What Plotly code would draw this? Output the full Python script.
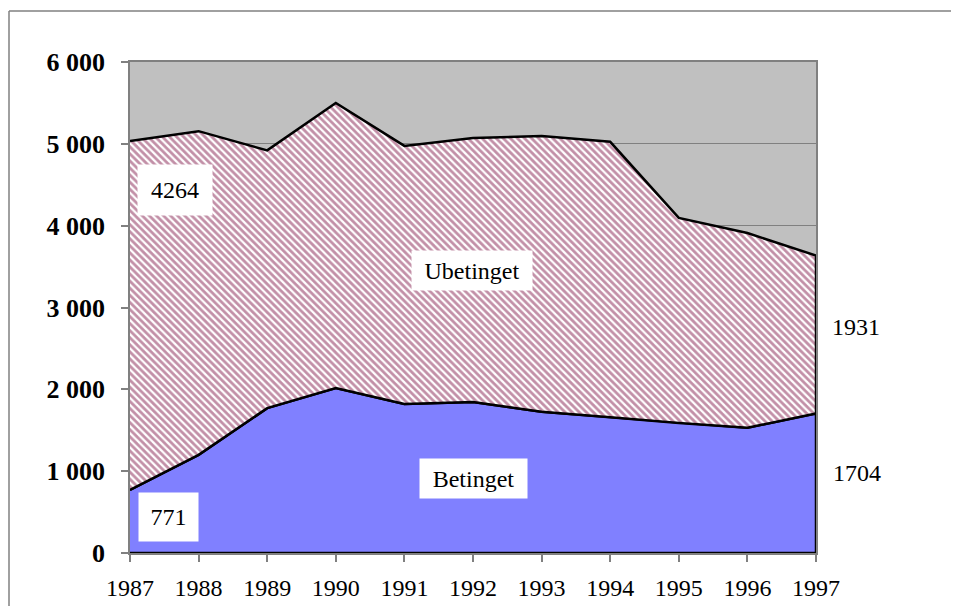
import plotly.graph_objects as go

years = [1987, 1988, 1989, 1990, 1991, 1992, 1993, 1994, 1995, 1996, 1997]
betinget = [771, 1200, 1770, 2015, 1820, 1845, 1725, 1660, 1590, 1530, 1704]
ubetinget = [4264, 3955, 3150, 3485, 3155, 3225, 3370, 3365, 2505, 2380, 1931]
y_ticks = [0, 1000, 2000, 3000, 4000, 5000, 6000]
y_tick_labels = ["0", "1 000", "2 000", "3 000", "4 000", "5 000", "6 000"]

totals = [b + u for b, u in zip(betinget, ubetinget)]

# page has an 8px body margin; figure is placed at (8, 8)
OFF = 8
W, H = 959 - OFF, 606 - OFF
L, R, T, B = 130, 816, 62, 553  # plot area in page pixels


def px(x):
    return (x - L) / (R - L)


def py(y):
    return (B - y) / (B - T)


serif = "Liberation Serif"

fig = go.Figure()
fig.add_trace(go.Scatter(
    x=years + years[::-1],
    y=betinget + [0] * len(years),
    fill="toself",
    fillcolor="#8080FF",
    line=dict(color="black", width=2.5),
    mode="lines",
    hoverinfo="skip",
    showlegend=False,
))
fig.add_trace(go.Scatter(
    x=years + years[::-1],
    y=totals + betinget[::-1],
    fill="toself",
    fillcolor="white",
    fillpattern=dict(shape="\\", fgcolor="#85204F", bgcolor="white", size=5, solidity=0.55),
    line=dict(color="black", width=2.5),
    mode="lines",
    hoverinfo="skip",
    showlegend=False,
))

ann_font = dict(family=serif, size=24, color="black")
annotations = [
    dict(x=px(175), y=py(190), text=str(ubetinget[0]), bgcolor="white", width=72, height=48),
    dict(x=px(168.5), y=py(517), text=str(betinget[0]), bgcolor="white", width=57, height=46),
    dict(x=px(472), y=py(270), text="Ubetinget", bgcolor="white", width=118, height=37),
    dict(x=px(473.5), y=py(478), text="Betinget", bgcolor="white", width=105, height=37),
    dict(x=px(855.5), y=py(327), text=str(ubetinget[-1])),
    dict(x=px(856.5), y=py(473), text=str(betinget[-1])),
]
for a in annotations:
    a.update(xref="paper", yref="paper", xanchor="center", yanchor="middle",
             showarrow=False, font=ann_font, borderpad=1)

fig.update_layout(
    width=W, height=H,
    margin=dict(l=L - OFF, r=(W + OFF) - R, t=T - OFF, b=(H + OFF) - B, pad=0),
    paper_bgcolor="white",
    plot_bgcolor="#C0C0C0",
    annotations=annotations,
    shapes=[
        dict(type="line", xref="paper", yref="paper", x0=px(9), x1=px(970), y0=py(11), y1=py(11),
             line=dict(color="#808080", width=1.5)),
        dict(type="line", xref="paper", yref="paper", x0=px(9), x1=px(9), y0=py(11), y1=py(620),
             line=dict(color="#808080", width=1.5)),
    ],
)
fig.update_xaxes(
    range=[years[0], years[-1]],
    tickvals=years,
    ticktext=[str(y) for y in years],
    showgrid=False, zeroline=False, automargin=False,
    showline=True, linecolor="#808080", linewidth=1.5, mirror=True,
    ticks="outside", ticklen=7, tickcolor="#808080", tickwidth=1.5,
    ticklabelstandoff=5,
    tickfont=dict(family=serif, size=24, color="black"),
)
fig.update_yaxes(
    range=[0, 6000],
    tickvals=y_ticks,
    ticktext=y_tick_labels,
    showgrid=True, gridcolor="#808080", gridwidth=1, zeroline=False, automargin=False,
    showline=True, linecolor="#808080", linewidth=1.5, mirror=True,
    ticks="outside", ticklen=7, tickcolor="#808080", tickwidth=1.5,
    ticklabelstandoff=11,
    tickfont=dict(family=serif, size=26, color="black", weight="bold"),
)

fig.write_html("out.html")
